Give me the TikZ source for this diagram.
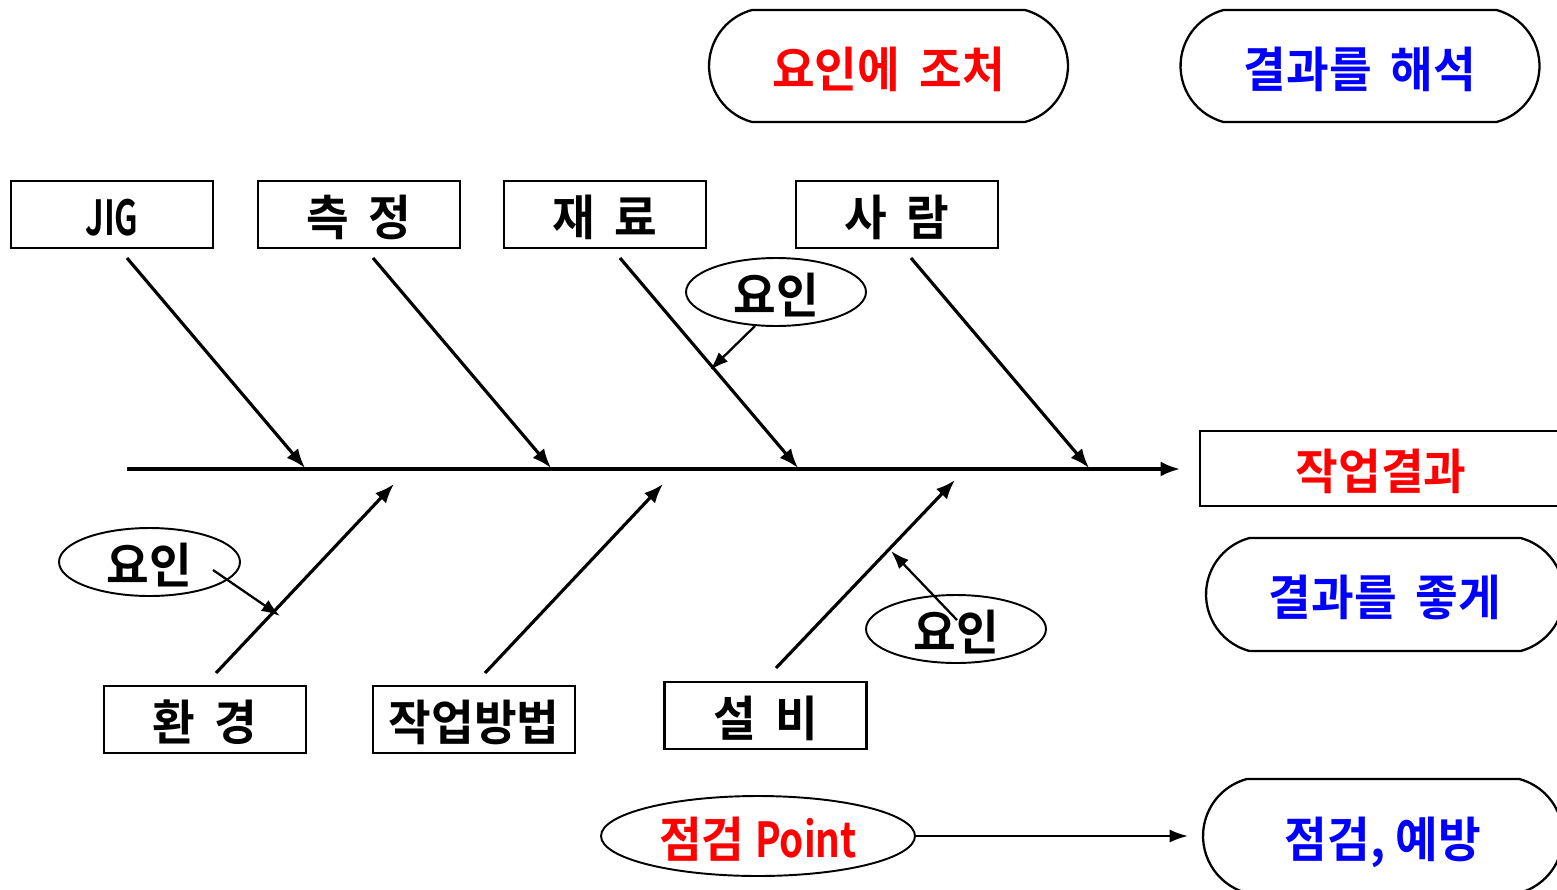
\documentclass[tikz,border=0pt]{standalone}
\usepackage{fontspec}
\usetikzlibrary{shapes.geometric,shapes.misc,arrows.meta}
\newfontfamily\kr[FakeStretch=0.96]{Noto Sans CJK KR Bold}
\newfontfamily\krnarrow[FakeStretch=0.68]{Noto Sans CJK KR Bold}
\newfontfamily\krpoint[FakeStretch=0.8]{Noto Sans CJK KR Bold}
\definecolor{kred}{RGB}{255,0,0}
\definecolor{kblue}{RGB}{0,0,255}
\newcommand{\wsp}{\hspace{11pt}}
\tikzset{
  lbl/.style={font=\kr\fontsize{27.5pt}{32pt}\selectfont, inner sep=0pt, text height=27.5pt, text depth=3.2pt},
  catbox/.style={lbl, draw, line width=1.4pt, minimum width=4.04cm, minimum height=1.34cm},
  pill/.style={lbl, draw, line width=1.3pt, rounded rectangle, rounded rectangle arc length=150, minimum width=7.18cm, minimum height=2.24cm},
  oval/.style={lbl, inner sep=-8pt, draw, line width=1.1pt, ellipse, minimum width=3.6cm, minimum height=1.36cm},
  bone/.style={line width=1.8pt, -{Latex[length=11pt,width=8.5pt]}},
  twig/.style={line width=1.3pt, -{Latex[length=10.5pt,width=7.5pt]}}
}
\begin{document}
\begin{tikzpicture}[x=0.02cm,y=-0.02cm]
\useasboundingbox (0,0) rectangle (1557,889);
\clip (0,0) rectangle (1557,889);
% top pills
\node[pill, text=kred] (act) at (888.5,66) {요인에\wsp 조처};
\node[pill, text=kblue] (interp) at (1360,66) {결과를\wsp 해석};
% category boxes top
\node[catbox] (jig) at (112,214.5) {\krnarrow JIG};
\node[catbox] (meas) at (359,214.5) {측\wsp 정};
\node[catbox] (mat) at (605,214.5) {재\wsp 료};
\node[catbox] (man) at (897,214.5) {사\wsp 람};
% category boxes bottom
\node[catbox] (env) at (205,719.5) {환\wsp 경};
\node[catbox] (meth) at (474,719.5) {작업방법};
\node[catbox] (equip) at (765.5,715.5) {설\wsp 비};
% result
\node[lbl, draw, line width=1.4pt, minimum width=7.24cm, minimum height=1.5cm, text=kred] (res) at (1381,468.5) {작업결과};
\node[pill, text=kblue, minimum width=7.16cm, minimum height=2.26cm] (good) at (1385,594.5) {결과를\wsp 좋게};
\node[pill, text=kblue, minimum width=7.2cm, minimum height=2.28cm] (prev) at (1383,836) {점검, 예방};
% spine
\coordinate (s0) at (127,469);
\coordinate (s1) at (1180,469);
\draw[bone] (s0) -- (s1);
% upper bones
\coordinate (a0) at (127,258); \coordinate (a1) at (305,468);
\coordinate (b0) at (373,258); \coordinate (b1) at (551,468);
\coordinate (c0) at (620,258); \coordinate (c1) at (798,468);
\coordinate (d0) at (911,258); \coordinate (d1) at (1089,468);
\draw[bone] (a0) -- (a1);
\draw[bone] (b0) -- (b1);
\draw[bone] (c0) -- (c1);
\draw[bone] (d0) -- (d1);
% lower bones
\coordinate (e0) at (216,673); \coordinate (e1) at (394,484);
\coordinate (f0) at (485,673); \coordinate (f1) at (663,484);
\coordinate (g0) at (776,668); \coordinate (g1) at (955,480);
\draw[bone] (e0) -- (e1);
\draw[bone] (f0) -- (f1);
\draw[bone] (g0) -- (g1);
% factor ovals
\node[oval] (y1) at (776,292) {요인};
\node[oval, minimum width=3.62cm] (y2) at (149.5,562) {요인};
\node[oval] (y3) at (956,629) {요인};
\coordinate (y1s) at (755,326); \coordinate (y1e) at (710,370);
\coordinate (y2s) at (213,570); \coordinate (y2e) at (280,616);
\coordinate (y3s) at (957,620); \coordinate (y3e) at (891,551);
\draw[twig] (y1s) -- (y1e);
\draw[twig] (y2s) -- (y2e);
\draw[twig] (y3s) -- (y3e);
% check point
\node[oval, minimum width=6.28cm, minimum height=1.6cm, text=kred] (chk) at (758,836) {점검 {\krpoint Point}};
\coordinate (chkend) at (1188,836);
\draw[twig] (chk.east) -- (chkend);
\end{tikzpicture}
\end{document}
